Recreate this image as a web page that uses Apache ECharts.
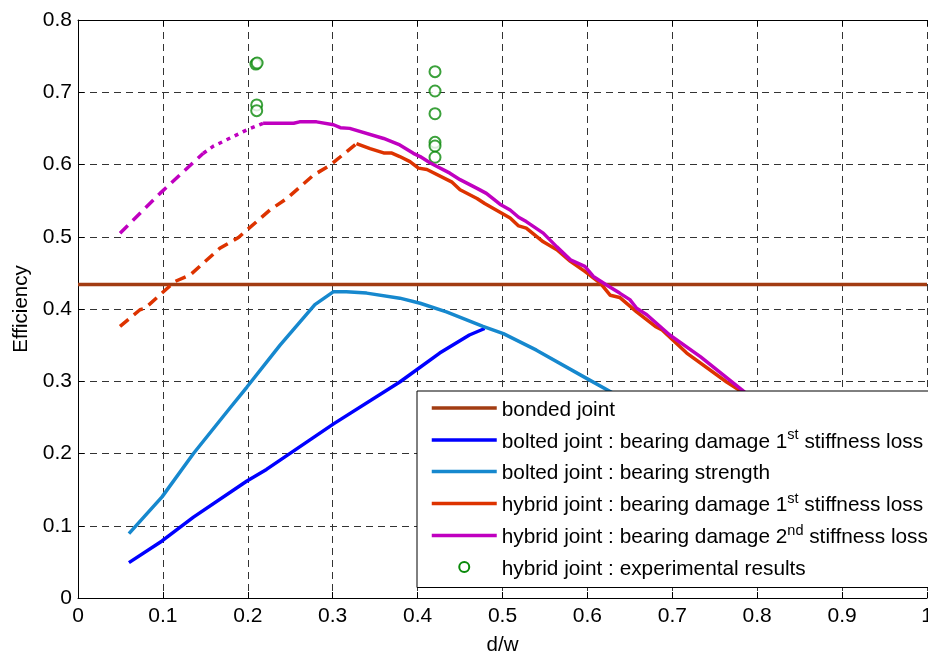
<!DOCTYPE html>
<html><head><meta charset="utf-8">
<script src="https://cdn.jsdelivr.net/npm/echarts@6/dist/echarts.min.js"></script>
<style>html,body{margin:0;padding:0;background:#fff}#c{width:928px;height:652px}</style>
</head><body><div id="c"></div>
<script>
const FONT = '"Liberation Sans", Arial, Helvetica, sans-serif';

const seriesNames = [
  'bonded joint',
  'bolted joint : bearing damage 1st stiffness loss',
  'bolted joint : bearing strength',
  'hybrid joint : bearing damage 1st stiffness loss',
  'hybrid joint : bearing damage 2nd stiffness loss',
  'hybrid joint : experimental results'
];

// bonded joint
const bondedX = [0, 1];
const bondedY = [0.434, 0.434];

// bolted joint : bearing damage 1st stiffness loss
const bolted1X = [0.060, 0.099, 0.136, 0.199, 0.222, 0.301, 0.379, 0.426, 0.461, 0.479];
const bolted1Y = [0.049, 0.079, 0.112, 0.162, 0.178, 0.241, 0.299, 0.339, 0.364, 0.373];

// bolted joint : bearing strength
const boltedSX = [0.060, 0.099, 0.136, 0.179, 0.199, 0.238, 0.279, 0.301, 0.316, 0.340, 0.379, 0.403, 0.434, 0.477, 0.501, 0.540, 0.599, 0.631, 0.680];
const boltedSY = [0.089, 0.140, 0.200, 0.263, 0.292, 0.350, 0.406, 0.424, 0.424, 0.422, 0.415, 0.408, 0.396, 0.376, 0.366, 0.343, 0.304, 0.283, 0.250];

// hybrid joint : bearing damage 1st stiffness loss (dashed part, then solid part)
const hybrid1DashX = [0.0495, 0.073, 0.079, 0.114, 0.132, 0.167, 0.189, 0.226, 0.246, 0.277, 0.297, 0.328];
const hybrid1DashY = [0.376, 0.399, 0.401, 0.438, 0.447, 0.484, 0.499, 0.537, 0.553, 0.585, 0.599, 0.629];
const hybrid1X = [0.328, 0.344, 0.360, 0.369, 0.379, 0.391, 0.401, 0.411, 0.440, 0.450, 0.470, 0.479, 0.509, 0.519, 0.528, 0.548, 0.564, 0.580, 0.597, 0.615, 0.627, 0.638, 0.658, 0.680, 0.688, 0.717, 0.764, 0.781, 0.820];
const hybrid1Y = [0.629, 0.622, 0.616, 0.616, 0.611, 0.604, 0.595, 0.593, 0.576, 0.565, 0.553, 0.546, 0.526, 0.515, 0.512, 0.493, 0.482, 0.466, 0.452, 0.436, 0.419, 0.416, 0.396, 0.376, 0.371, 0.339, 0.299, 0.286, 0.250];

// hybrid joint : bearing damage 2nd stiffness loss (dashed, dotted, solid parts)
const hybrid2DashX = [0.0495, 0.0966, 0.1476];
const hybrid2DashY = [0.505, 0.560, 0.6155];
const hybrid2DotX = [0.1476, 0.159, 0.199, 0.218];
const hybrid2DotY = [0.6155, 0.625, 0.648, 0.657];
const hybrid2X = [0.218, 0.254, 0.261, 0.281, 0.301, 0.309, 0.320, 0.360, 0.379, 0.395, 0.403, 0.415, 0.438, 0.450, 0.470, 0.481, 0.497, 0.509, 0.519, 0.528, 0.548, 0.564, 0.580, 0.597, 0.607, 0.623, 0.638, 0.650, 0.658, 0.670, 0.697, 0.733, 0.782, 0.820];
const hybrid2Y = [0.657, 0.657, 0.659, 0.659, 0.655, 0.651, 0.650, 0.636, 0.627, 0.6155, 0.611, 0.602, 0.588, 0.579, 0.567, 0.560, 0.545, 0.537, 0.527, 0.521, 0.505, 0.486, 0.468, 0.459, 0.445, 0.433, 0.422, 0.413, 0.401, 0.392, 0.364, 0.334, 0.288, 0.250];

// hybrid joint : experimental results
const expX = [0.2095, 0.2110, 0.2105, 0.2105, 0.4205, 0.4205, 0.4205, 0.4205, 0.4205, 0.4205];
const expY = [0.7390, 0.7405, 0.6824, 0.6745, 0.7285, 0.7017, 0.6703, 0.6307, 0.6256, 0.6100];

const xMin = 0, xMax = 1, xStep = 0.1;
const yMin = 0, yMax = 0.8, yStep = 0.1;

const C = {
  bonded: '#A23C12',
  bolted1: '#0000FF',
  boltedS: '#1688CE',
  hybrid1: '#DD3300',
  hybrid2: '#C000C0',
  exp: '#0A8A0A'
};

function zip(xs, ys) { return xs.map((x, i) => [x, ys[i]]); }

function lineSeries(name, xs, ys, color, type) {
  return {
    name: name, type: 'line', xAxisIndex: 0, yAxisIndex: 0,
    data: zip(xs, ys),
    symbol: 'none', showSymbol: false, smooth: false,
    lineStyle: { color: color, width: 3.5, type: type || 'solid' },
    itemStyle: { color: color },
    emphasis: { disabled: true },
    animation: false
  };
}

const chart = echarts.init(document.getElementById('c'), null, { renderer: 'canvas' });

const axisCommon = {
  axisLine: { show: true, onZero: false, lineStyle: { color: '#000', width: 1 } },
  axisTick: { show: true, inside: true, length: 6, lineStyle: { color: '#000' } },
};

chart.setOption({
  animation: false,
  backgroundColor: '#fff',
  grid: { left: 78, right: 1, top: 20, bottom: 54, containLabel: false, outerBoundsMode: 'none' },
  xAxis: [
    Object.assign({
      type: 'value', min: xMin, max: xMax, interval: xStep, position: 'bottom',
      name: 'd/w', nameLocation: 'middle', nameGap: 37,
      nameTextStyle: { fontFamily: FONT, fontSize: 20.5, color: '#000' },
      axisLabel: { fontFamily: FONT, fontSize: 21, color: '#000', margin: 8, showMaxLabel: true },
      splitLine: { show: true, lineStyle: { color: '#333', width: 1, type: [7, 5] } }
    }, axisCommon),
    Object.assign({
      type: 'value', min: xMin, max: xMax, interval: xStep, position: 'top',
      axisLabel: { show: false }, splitLine: { show: false }
    }, axisCommon)
  ],
  yAxis: [
    Object.assign({
      type: 'value', min: yMin, max: yMax, interval: yStep, position: 'left',
      name: 'Efficiency', nameLocation: 'middle', nameGap: 44,
      nameTextStyle: { fontFamily: FONT, fontSize: 20.5, color: '#000' },
      axisLabel: { fontFamily: FONT, fontSize: 21, color: '#000', margin: 6 },
      splitLine: { show: true, lineStyle: { color: '#333', width: 1, type: [7, 5] } }
    }, axisCommon)
  ],
  legend: {
    show: true,
    orient: 'vertical',
    left: 417, top: 391,
    padding: [5, 60, 8, 13],
    itemWidth: 65, itemHeight: 10, itemGap: 7,
    backgroundColor: '#fff',
    borderColor: '#000', borderWidth: 1,
    selectedMode: false,
    itemStyle: { opacity: 0 },
    lineStyle: { width: 3.5 },
    data: [
      { name: seriesNames[0] },
      { name: seriesNames[1] },
      { name: seriesNames[2] },
      { name: seriesNames[3] },
      { name: seriesNames[4] },
      { name: seriesNames[5], itemStyle: { opacity: 1, borderWidth: 1 } }
    ],
    textStyle: {
      fontFamily: FONT, fontSize: 20.8, color: '#000', lineHeight: 24,
      rich: {
        m: { fontFamily: FONT, fontSize: 20.8, lineHeight: 24, height: 20, color: '#000', verticalAlign: 'bottom' },
        s: { fontFamily: FONT, fontSize: 14.5, lineHeight: 24, height: 14, color: '#000', verticalAlign: 'top' }
      }
    },
    formatter: function (name) {
      const m = name.match(/^(.*?)(\d)(st|nd)(.*)$/);
      if (m) return '{m|' + m[1] + m[2] + '}{s|' + m[3] + '}{m|' + m[4] + '}';
      return '{m|' + name + '}';
    }
  },
  series: [
    lineSeries(seriesNames[0], bondedX, bondedY, C.bonded),
    lineSeries(seriesNames[1], bolted1X, bolted1Y, C.bolted1),
    lineSeries(seriesNames[2], boltedSX, boltedSY, C.boltedS),
    lineSeries('hybrid1-dashed', hybrid1DashX, hybrid1DashY, C.hybrid1, [11, 7]),
    lineSeries(seriesNames[3], hybrid1X, hybrid1Y, C.hybrid1),
    lineSeries('hybrid2-dashed', hybrid2DashX, hybrid2DashY, C.hybrid2, [11, 7]),
    lineSeries('hybrid2-dotted', hybrid2DotX, hybrid2DotY, C.hybrid2, [4, 5]),
    lineSeries(seriesNames[4], hybrid2X, hybrid2Y, C.hybrid2),
    {
      name: seriesNames[5], type: 'scatter',
      data: zip(expX, expY),
      symbol: 'emptyCircle', symbolSize: 11,
      itemStyle: { color: C.exp, borderColor: C.exp, borderWidth: 1 },
      emphasis: { disabled: true },
      animation: false
    }
  ]
});
</script>
</body></html>
